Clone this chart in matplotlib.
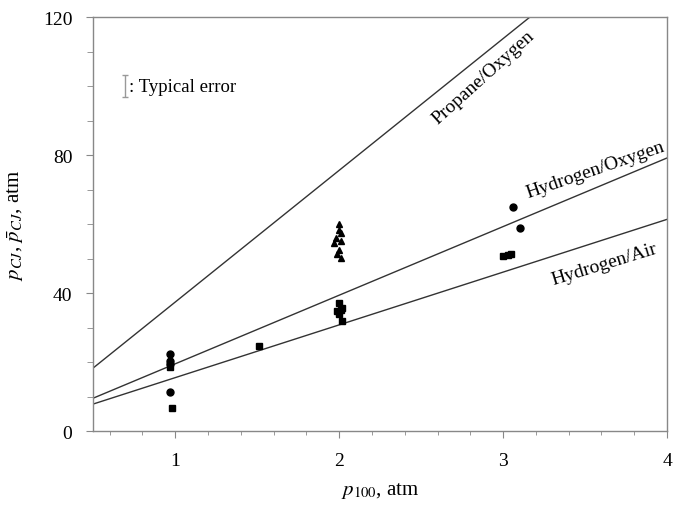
import numpy as np
import matplotlib
matplotlib.use("Agg")
import matplotlib.pyplot as plt

plt.rcParams['font.family'] = ['Liberation Serif', 'DejaVu Serif']
plt.rcParams['mathtext.fontset'] = 'stix'

# theory lines: p_CJ = slope * p100 + intercept
line_names = ['Propane/Oxygen', 'Hydrogen/Oxygen', 'Hydrogen/Air']
line_slope = [38.2, 19.9, 15.3]
line_icpt = [-0.8, -0.4, 0.2]

# measured points
circ_x = [0.97, 0.97, 0.97, 0.97, 3.06, 3.10]
circ_y = [22.4, 20.3, 19.4, 11.3, 64.9, 58.8]
sq_x = [0.97, 0.98, 1.51, 2.00, 2.02, 1.99, 2.01, 2.00, 2.02, 3.00, 3.03, 3.05]
sq_y = [18.5, 6.8, 24.6, 37.2, 35.6, 34.8, 35.0, 33.9, 32.0, 50.8, 51.1, 51.4]
tri_x = [2.00, 2.00, 2.01, 1.98, 2.01, 1.97, 2.00, 1.99, 2.01]
tri_y = [60.0, 58.4, 57.4, 56.0, 55.2, 54.4, 52.6, 51.3, 50.2]

fig = plt.figure(figsize=(6.8, 5.06), dpi=100)
ax = fig.add_axes([0.137, 0.146, 0.844, 0.818])

xx = np.array([0.5, 4.0])
for s, b in zip(line_slope, line_icpt):
    ax.plot(xx, s*xx + b, color='#333333', lw=1.0)

ax.plot(circ_x, circ_y, 'o', color='black', ms=5)
ax.plot(sq_x, sq_y, 's', color='black', ms=4.5)
ax.plot(tri_x, tri_y, '^', color='black', ms=5)

# line labels
ax.text(2.88, 102.8, line_names[0], rotation=42, ha='center', va='center', fontsize=14)
ax.text(3.56, 75.8, line_names[1], rotation=19, ha='center', va='center', fontsize=14)
ax.text(3.62, 48.4, line_names[2], rotation=17, ha='center', va='center', fontsize=14)

# typical error marker
ax.errorbar([0.695], [100], yerr=[3.2], color='#999999', capsize=2.5, lw=1, capthick=1)
ax.text(0.72, 100, ': Typical error', ha='left', va='center', fontsize=13.5)

ax.set_xlim(0.5, 4)
ax.set_ylim(0, 120)
ax.set_xticks([1, 2, 3, 4])
ax.set_xticks(np.arange(0.6, 4.01, 0.2), minor=True)
ax.set_yticks([0, 40, 80, 120])
ax.set_yticks(np.arange(0, 121, 10), minor=True)
ax.tick_params(which='both', direction='out', color='#888888', labelsize=14)
ax.tick_params(axis='x', which='major', length=5, pad=10)
ax.tick_params(axis='x', which='minor', length=3)
ax.tick_params(axis='y', which='major', length=5, pad=10)
ax.tick_params(axis='y', which='minor', length=4)
for sp in ax.spines.values():
    sp.set_color('#888888')
    sp.set_linewidth(1.0)

ax.set_xlabel(r'$p_{100}$, atm', fontsize=15, labelpad=8)
ax.set_ylabel(r'$p_{CJ}$, $\bar{p}_{CJ}$, atm', fontsize=15, labelpad=12)

plt.savefig('out.png', dpi=100)
